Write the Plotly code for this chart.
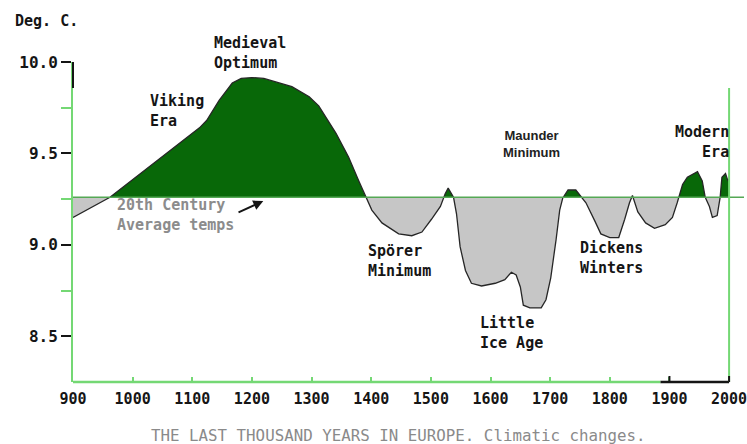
import plotly.graph_objects as go

# ---- data ----
years = [900, 962, 1112, 1124, 1145, 1167, 1182, 1200, 1220, 1241, 1267, 1296, 1312, 1341,
         1362, 1379, 1391, 1401, 1418, 1446, 1468, 1485, 1501, 1516, 1524, 1529, 1538,
         1543, 1549, 1558, 1568, 1585, 1608, 1624, 1635, 1643, 1650, 1655, 1666, 1685,
         1693, 1701, 1710, 1716, 1721, 1730, 1743, 1751, 1760, 1775, 1785, 1800, 1815,
         1825, 1833, 1838, 1847, 1860, 1875, 1893, 1905, 1913, 1922, 1930, 1947, 1955,
         1960, 1967, 1972, 1980, 1985, 1988, 1994, 1998, 2000]
temps = [9.15, 9.26, 9.64, 9.68, 9.79, 9.885, 9.91, 9.915, 9.91, 9.89, 9.865, 9.81, 9.76, 9.61,
         9.48, 9.35, 9.26, 9.19, 9.12, 9.06, 9.05, 9.07, 9.14, 9.21, 9.28, 9.31, 9.26,
         9.17, 8.99, 8.86, 8.79, 8.775, 8.79, 8.81, 8.85, 8.835, 8.77, 8.67, 8.655, 8.655,
         8.70, 8.82, 9.03, 9.19, 9.255, 9.30, 9.30, 9.27, 9.23, 9.13, 9.06, 9.04, 9.04,
         9.14, 9.23, 9.27, 9.18, 9.12, 9.09, 9.11, 9.15, 9.23, 9.33, 9.37, 9.40, 9.35,
         9.26, 9.21, 9.15, 9.16, 9.26, 9.37, 9.39, 9.35, 9.36]
baseline = 9.26
x_ticks = [900, 1000, 1100, 1200, 1300, 1400, 1500, 1600, 1700, 1800, 1900, 2000]
y_ticks = [8.5, 9.0, 9.5, 10.0]
y_tick_text = ["8.5", "9.0", "9.5", "10.0"]
y_minor = [8.75, 9.25, 9.75]
dark_x_ticks = [1900, 2000]
X_RANGE = [900, 2025]
Y_RANGE = [8.25, 10.0]
FRAME_END = 2000
FRAME_TOP = 9.858

# ---- insert crossing points with the baseline so fills split cleanly ----
xs, ys = [years[0]], [temps[0]]
for i in range(1, len(years)):
    x0, y0, x1, y1 = years[i - 1], temps[i - 1], years[i], temps[i]
    if (y0 - baseline) * (y1 - baseline) < 0:
        t = (baseline - y0) / (y1 - y0)
        xs.append(x0 + t * (x1 - x0))
        ys.append(baseline)
    xs.append(x1)
    ys.append(y1)
upper = [max(v, baseline) for v in ys]
lower = [min(v, baseline) for v in ys]
base = [baseline] * len(xs)

GREEN_FILL = "#086808"
GRAY_FILL = "#c6c6c6"
AXIS_GREEN = "#74d874"
LINE_GREEN = "#55a855"
DARK = "#151515"
MONO = "DejaVu Sans Mono"

W, H = 747, 444
ML, MR, MT, MB = 73, 0, 62, 62
PW, PH = W - ML - MR, H - MT - MB


def px(xpix):
    return (xpix - ML) / PW


def py(ypix):
    return (H - MB - ypix) / PH


def xfrac(year):
    return (year - X_RANGE[0]) / (X_RANGE[1] - X_RANGE[0])


def yfrac(v):
    return (v - Y_RANGE[0]) / (Y_RANGE[1] - Y_RANGE[0])


fig = go.Figure()
fig.add_trace(go.Scatter(x=xs, y=base, mode="lines", line=dict(width=0), hoverinfo="skip", showlegend=False))
fig.add_trace(go.Scatter(x=xs, y=upper, mode="lines", line=dict(width=0), fill="tonexty",
                         fillcolor=GREEN_FILL, showlegend=False))
fig.add_trace(go.Scatter(x=xs, y=base, mode="lines", line=dict(width=0), hoverinfo="skip", showlegend=False))
fig.add_trace(go.Scatter(x=xs, y=lower, mode="lines", line=dict(width=0), fill="tonexty",
                         fillcolor=GRAY_FILL, showlegend=False))
fig.add_trace(go.Scatter(x=years, y=temps, mode="lines", line=dict(color="#262626", width=1.3),
                         showlegend=False))

shapes = [
    dict(type="line", xref="paper", yref="paper", x0=0, x1=1, y0=yfrac(baseline), y1=yfrac(baseline),
         line=dict(color=LINE_GREEN, width=1.5), layer="above"),
    dict(type="line", xref="paper", yref="paper", x0=0, x1=xfrac(1885), y0=0, y1=0,
         line=dict(color=AXIS_GREEN, width=2.5), layer="above"),
    dict(type="line", xref="paper", yref="paper", x0=xfrac(1885), x1=xfrac(FRAME_END), y0=0, y1=0,
         line=dict(color=DARK, width=2.5), layer="above"),
    dict(type="line", xref="paper", yref="paper", x0=xfrac(FRAME_END), x1=xfrac(FRAME_END),
         y0=0, y1=yfrac(FRAME_TOP), line=dict(color=AXIS_GREEN, width=2), layer="above"),
    dict(type="line", xref="paper", yref="paper", x0=0, x1=0, y0=yfrac(FRAME_TOP), y1=1,
         line=dict(color=DARK, width=2), layer="above"),
]
for t in dark_x_ticks:
    shapes.append(dict(type="line", xref="paper", yref="paper", x0=xfrac(t), x1=xfrac(t), y0=0, y1=6 / PH,
                       line=dict(color=DARK, width=2), layer="above"))

lab = dict(family=MONO, size=15, color=DARK, weight="bold")
annotations = [
    dict(x=px(13), y=py(21), text="Deg. C.", xanchor="left", font=lab),
    dict(x=px(213), y=py(53), text="Medieval<br>Optimum", xanchor="left", align="left", font=lab),
    dict(x=px(148), y=py(111), text="Viking<br>Era", xanchor="left", align="left", font=lab),
    dict(x=px(534), y=py(144), text="Maunder<br>Minimum", xanchor="center", align="center",
         font=dict(family="Liberation Sans", size=13, color="#222", weight="bold")),
    dict(x=px(367), y=py(261), text="Spörer<br>Minimum", xanchor="left", align="left", font=lab),
    dict(x=px(480), y=py(333), text="Little<br>Ice Age", xanchor="left", align="left", font=lab),
    dict(x=px(580), y=py(258), text="Dickens<br>Winters", xanchor="left", align="left", font=lab),
    dict(x=px(734), y=py(142), text="Modern<br>Era", xanchor="right", align="right", font=lab),
    dict(x=px(115), y=py(215), text="20th Century<br>Average temps", xanchor="left", align="left",
         font=dict(family=MONO, size=15, color="#8c8c8c", weight="bold")),
    dict(x=1219, y=9.24, ax=1175, ay=9.174, axref="x", ayref="y", xref="x", yref="y", text="",
         showarrow=True, arrowhead=2, arrowsize=1, arrowwidth=2, arrowcolor=DARK),
    dict(x=px(400), y=py(435), text="THE LAST THOUSAND YEARS IN EUROPE. Climatic changes.",
         xanchor="center", font=dict(family=MONO, size=15.8, color="#8a8a8a")),
]
for a in annotations:
    a.setdefault("showarrow", False)
    a.setdefault("yanchor", "middle")
    a.setdefault("xref", "paper")
    a.setdefault("yref", "paper")

fig.update_layout(
    width=W, height=H,
    margin=dict(l=ML, r=MR, t=MT, b=MB),
    paper_bgcolor="white", plot_bgcolor="white",
    showlegend=False,
    xaxis=dict(range=X_RANGE, tickvals=x_ticks, showgrid=False, zeroline=False, showline=False,
               ticks="inside", ticklen=5, tickwidth=1.5, tickcolor=AXIS_GREEN,
               tickfont=dict(family=MONO, size=15, color=DARK, weight="bold"),
               ticklabelstandoff=6, ticklabeloverflow="allow"),
    yaxis=dict(range=Y_RANGE, tickvals=y_ticks, ticktext=y_tick_text, showgrid=False, zeroline=False,
               showline=True, linecolor=AXIS_GREEN, linewidth=2,
               ticks="outside", ticklen=10, tickwidth=1.5, tickcolor=DARK,
               minor=dict(tickvals=y_minor, ticks="outside", ticklen=10, tickwidth=1.5, tickcolor=AXIS_GREEN),
               tickfont=dict(family=MONO, size=16, color=DARK, weight="bold")),
    shapes=shapes,
    annotations=annotations,
)

fig.write_html("out.html", config={"displayModeBar": False},
               post_script="document.body.style.margin='0px';")
